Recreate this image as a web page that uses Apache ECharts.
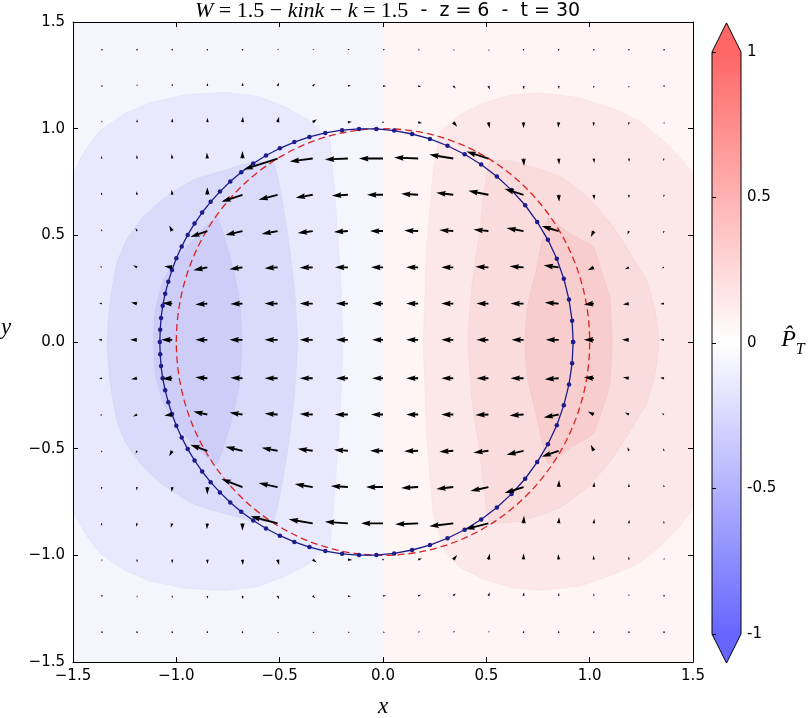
<!DOCTYPE html>
<html>
<head>
<meta charset="utf-8">
<script src="https://cdn.jsdelivr.net/npm/echarts@6/dist/echarts.min.js"></script>
<style>
html, body { margin: 0; padding: 0; background: #fff; }
#chart { width: 812px; height: 718px; }
</style>
</head>
<body>
<div id="chart"></div>
<script>
// quiver grid (x left->right, y top->bottom)
var gridX = [-1.36, -1.19, -1.02, -0.85, -0.68, -0.51, -0.34, -0.17, 0, 0.17, 0.34, 0.51, 0.68, 0.85, 1.02, 1.19, 1.36];
var gridY = [1.37, 1.20, 1.03, 0.86, 0.69, 0.52, 0.35, 0.18, 0.01, -0.17, -0.34, -0.51, -0.68, -0.85, -1.02, -1.19, -1.36];

// velocity components, one row per gridY
var quiverU = [
  [0.5, 0.6, 0.8, 1, 1.3, 1.6, 1.9, 2.1, 2.2, 2.1, 1.9, 1.6, 1.3, 1, 0.8, 0.6, 0.5],
  [0, 0, 0, 0.3, 0.5, 1.5, 2.5, 3, 3.2, 3, 2.5, 1.5, 0.5, 0.3, 0, 0, 0],
  [0, 0, 0, 0.3, 0.5, 1.5, 4, 4, 1, 4, 4, 1.5, 0, -0.5, -0.5, -0.3, 0],
  [-1, -0.3, -0.5, -0.5, 0, -34, -23, -23, -24, -24, -24, -22, 0.5, 0.5, 0.5, 0.3, -1],
  [-1, -0.5, -0.5, 0, -21, -19, -17, -16, -16, -17, -17, -20, -19, 0.5, 0.5, 0, -0.5],
  [-1, -1.5, -3, -17, -17, -16, -15, -14, -13, -14, -14, -15, -17, -17, -3, -1.5, -1],
  [-2, -4, -8, -14, -13, -13, -13, -13, -12, -12, -12, -13, -14, -15, -6, -4, -2.5],
  [-3, -6, -10, -12, -12, -13, -13, -12, -11, -12, -12, -12, -13, -14, -10, -6, -4],
  [-3.5, -7, -11, -12, -13, -13, -13, -12, -11, -12, -12, -12, -12, -13, -10, -7, -4],
  [-3, -6, -10, -12, -12, -13, -13, -12, -11, -12, -12, -12, -13, -14, -10, -6, -4],
  [-2, -4, -8, -14, -13, -13, -13, -13, -12, -12, -12, -13, -14, -15, -6, -4, -2.5],
  [-1, -1.5, -3, -17, -17, -16, -15, -14, -13, -14, -14, -15, -17, -17, -3, -1.5, -1],
  [-1, -0.5, -0.5, 0, -21, -19, -18, -17, -17, -17, -17, -18, -19, 0.5, 0.5, 0, -0.5],
  [-1, -1, -1.5, -0.5, 0, -27, -24, -23, -22, -23, -24, -23, 0.5, 0.5, 0.5, 0.3, -0.5],
  [0, 0, 0, 0.3, 0.5, 1.5, 4, 4.5, 1, 4, 4, 1.5, 0, -0.5, -0.5, -0.3, 0],
  [0, 0, 0, 0.3, 0.5, 1.5, 2.5, 3, 3.2, 3, 2.5, 1.5, 0.5, 0.3, 0, 0, 0],
  [0.5, 0.6, 0.8, 1, 1.3, 1.6, 1.9, 2.1, 2.2, 2.1, 1.9, 1.6, 1.3, 1, 0.8, 0.6, 0.5]
];
var quiverV = [
  [1, 1.2, 1.3, 1.4, 1.3, 1.1, 0.8, 0.4, 0, -0.4, -0.8, -1.1, -1.3, -1.4, -1.3, -1.2, -1],
  [1.5, 2, 2.5, 3, 3.5, 3.5, 2.5, 1, 0, -1, -2.5, -3.5, -3.5, -3, -2.5, -2, -1.5],
  [2, 3, 4, 4.5, 5.5, 5.5, 3, 0.5, 0, -1, -4.5, -6, -6, -5.5, -4, -3, -2],
  [2.5, 3.5, 4.5, 6, 7.5, -11, -3, -1, 0, 1, 4, 7, -7.5, -6, -4.5, -3.5, -2.5],
  [2.5, 3.5, 5, 7.5, -7, -5, -3, -1, 0, 1, 2, 4, 6, -7, -5, -3.5, -2.5],
  [2, 3, 5.5, -6, -4, -3, -2, -1, 0, 0.5, 1, 1.5, 3, 5, -6, -3.5, -2.5],
  [1, 2, 1, -3, -2, -1, -0.5, 0, 0, 0, 0, 0.5, 1, 2, -3, -2, -1],
  [0.5, 1, 0.5, -1, -0.5, 0, 0, 0, 0, 0, 0, 0, 0, 1, -1, -1, -0.5],
  [0, 0, 0, 0, 0, 0, 0, 0, 0, 0, 0, 0, 0, 0, 0, 0, 0],
  [-0.5, -1, -0.5, 1, 0.5, 0, 0, 0, 0, 0, 0, 0, 0, -1, 1, 1, 0.5],
  [-1, -2, -1, 3, 2, 1, 0.5, 0, 0, 0, 0, -0.5, -1, -3, 3, 2, 1],
  [-2, -3, -5.5, 6, 4, 3, 2, 1, 0, -0.5, -1, -2, -4, -6, 6, 3.5, 2.5],
  [-2.5, -3.5, -5, -7.5, 8, 4, 3, 1, 0, -1, -2, -4, -6, 7, 5, 3.5, 2.5],
  [-2.5, -3.5, -4.5, -6, -7.5, 7, 4, 1.5, 0, -1, -3, -6, 7.5, 6, 4.5, 3.5, 2.5],
  [-2, -3, -4, -4.5, -5.5, -5.5, -3, -0.5, 0, 1, 4.5, 6, 6, 5.5, 4, 3, 2],
  [-1.5, -2, -2.5, -3, -3.5, -3.5, -2.5, -1, 0, 1, 2.5, 3.5, 3.5, 3, 2.5, 2, 1.5],
  [-1, -1.2, -1.3, -1.4, -1.3, -1.1, -0.8, -0.4, 0, 0.4, 0.8, 1.1, 1.3, 1.4, 1.3, 1.2, 1]
];

// filled contour regions of P_T (outlines in data coordinates)
var bgNegative = [[-1.5, 1.5], [0, 1.5], [0, -1.5], [-1.5, -1.5]];
var bgPositive = [[0, 1.5], [1.5, 1.5], [1.5, -1.5], [0, -1.5]];
var blueOuter = [[-1.5, 0.79], [-1.44, 0.9], [-1.37, 0.99], [-1.25, 1.07], [-1.13, 1.12], [-0.95, 1.16], [-0.76, 1.17],
  [-0.6, 1.15], [-0.48, 1.105], [-0.36, 1.04], [-0.256, 0.95], [-0.23, 0.65], [-0.205, 0.3], [-0.195, 0],
  [-0.205, -0.3], [-0.23, -0.65], [-0.256, -0.945], [-0.36, -1.04], [-0.48, -1.1], [-0.6, -1.145],
  [-0.76, -1.165], [-0.95, -1.155], [-1.13, -1.12], [-1.25, -1.07], [-1.37, -0.99], [-1.44, -0.9], [-1.5, -0.79]];
var blueMid = [[-0.643, 0.84], [-0.78, 0.8], [-0.916, 0.76], [-1.05, 0.68], [-1.158, 0.588], [-1.24, 0.48],
  [-1.287, 0.369], [-1.32, 0.19], [-1.335, 0], [-1.32, -0.19], [-1.287, -0.369], [-1.24, -0.48], [-1.158, -0.588],
  [-1.05, -0.68], [-0.916, -0.76], [-0.78, -0.8], [-0.643, -0.836], [-0.53, -0.836], [-0.465, -0.526],
  [-0.43, -0.26], [-0.414, 0], [-0.43, 0.26], [-0.465, 0.526], [-0.53, 0.84]];
var blueInner = [[-0.803, 0.585], [-0.88, 0.52], [-0.948, 0.447], [-1.01, 0.37], [-1.061, 0.291], [-1.101, 0.15],
  [-1.11, 0], [-1.101, -0.15], [-1.061, -0.291], [-1.01, -0.37], [-0.948, -0.447], [-0.88, -0.515],
  [-0.803, -0.57], [-0.723, -0.33], [-0.691, -0.166], [-0.683, 0], [-0.691, 0.166], [-0.723, 0.338]];
var redOuter = [[0.28, 0.99], [0.38, 1.07], [0.484, 1.12], [0.62, 1.158], [0.758, 1.168], [0.95, 1.145], [1.129, 1.089],
  [1.25, 1.03], [1.36, 0.94], [1.44, 0.86], [1.5, 0.79], [1.5, -0.78], [1.44, -0.86], [1.36, -0.94], [1.25, -1.03],
  [1.129, -1.085], [0.95, -1.145], [0.758, -1.164], [0.62, -1.15], [0.484, -1.11], [0.38, -1.06], [0.3, -0.99],
  [0.243, -0.8], [0.212, -0.45], [0.195, 0], [0.212, 0.45], [0.243, 0.8]];
var redMid = [[0.517, 0.846], [0.49, 0.7], [0.469, 0.526], [0.43, 0.26], [0.412, 0], [0.43, -0.26], [0.469, -0.526],
  [0.49, -0.7], [0.517, -0.844], [0.662, -0.84], [0.855, -0.776], [1.0, -0.67], [1.113, -0.54], [1.273, -0.291],
  [1.315, -0.15], [1.335, 0], [1.315, 0.15], [1.273, 0.291], [1.113, 0.54], [1.0, 0.67], [0.855, 0.776], [0.63, 0.846]];
var redInner = [[0.8, 0.58], [0.742, 0.338], [0.7, 0.17], [0.686, 0], [0.7, -0.17], [0.742, -0.338], [0.8, -0.57],
  [0.9, -0.5], [1.016, -0.43], [1.06, -0.32], [1.097, -0.2], [1.108, 0], [1.097, 0.213], [1.06, 0.32],
  [1.016, 0.447], [0.9, 0.51]];

// displaced boundary (blue, with markers)
var boundary = [[0.92, 0], [0.915, 0.1], [0.9, 0.199], [0.875, 0.296], [0.841, 0.39], [0.798, 0.479], [0.746, 0.563],
  [0.688, 0.641], [0.622, 0.712], [0.551, 0.776], [0.475, 0.832], [0.395, 0.88], [0.312, 0.92], [0.227, 0.952],
  [0.141, 0.975], [0.054, 0.991], [-0.032, 0.999], [-0.116, 0.999], [-0.198, 0.993], [-0.279, 0.98], [-0.356, 0.961],
  [-0.429, 0.937], [-0.499, 0.908], [-0.566, 0.874], [-0.628, 0.837], [-0.686, 0.796], [-0.739, 0.752],
  [-0.789, 0.705], [-0.834, 0.657], [-0.875, 0.607], [-0.912, 0.555], [-0.945, 0.502], [-0.974, 0.448],
  [-1.0, 0.393], [-1.021, 0.338], [-1.039, 0.282], [-1.054, 0.226], [-1.066, 0.17], [-1.074, 0.113],
  [-1.078, 0.057], [-1.08, 0], [-1.078, -0.057], [-1.074, -0.113], [-1.066, -0.17], [-1.054, -0.226],
  [-1.039, -0.282], [-1.021, -0.338], [-1.0, -0.393], [-0.974, -0.448], [-0.945, -0.502], [-0.912, -0.555],
  [-0.875, -0.607], [-0.834, -0.657], [-0.789, -0.705], [-0.739, -0.752], [-0.686, -0.796], [-0.628, -0.837],
  [-0.566, -0.874], [-0.499, -0.908], [-0.429, -0.937], [-0.356, -0.961], [-0.279, -0.98], [-0.198, -0.993],
  [-0.116, -0.999], [-0.032, -0.999], [0.054, -0.991], [0.141, -0.975], [0.227, -0.952], [0.312, -0.92],
  [0.395, -0.88], [0.475, -0.832], [0.551, -0.776], [0.622, -0.712], [0.688, -0.641], [0.746, -0.563],
  [0.798, -0.479], [0.841, -0.39], [0.875, -0.296], [0.9, -0.199], [0.915, -0.1]];

// unperturbed tube boundary: centre x, centre y, radius
var tubeCircle = [[0, 0, 1]];

var regions = [bgNegative, bgPositive, blueOuter, redOuter, blueMid, redMid, blueInner, redInner];
var regionFill = ['#f5f5fe', '#fff5f5', '#e8e9fc', '#fce8e8', '#dadbfa', '#fadcdc', '#cdcdf8', '#f8cdcd'];
var regionStroke = ['none', 'none', '#dfe0f8', '#f7dfdf', '#d0d1f5', '#f4d2d2', '#c4c4f2', '#f0c4c4'];
var regionSmooth = [0, 0, 0, 0, 0.15, 0.15, 0.15, 0.15];

var arrowData = [];
for (var r = 0; r < gridY.length; r++) {
  for (var c = 0; c < gridX.length; c++) {
    arrowData.push([gridX[c], gridY[r], quiverU[r][c], quiverV[r][c]]);
  }
}

var sansFont = 'DejaVu Sans';
var mathFont = 'Liberation Serif';
var shaftW = 1.9;

function renderArrow(params, api) {
  var p = api.coord([api.value(0), api.value(1)]);
  var dx = api.value(2), dy = -api.value(3);
  var L = Math.sqrt(dx * dx + dy * dy);
  if (L < shaftW) {
    return { type: 'circle', shape: { cx: p[0], cy: p[1], r: 0.8 }, style: { fill: '#000' } };
  }
  var ux = dx / L, uy = dy / L, nx = -uy, ny = ux;
  var headLen = 5 * shaftW, headAxis = 4.5 * shaftW, headW = 3 * shaftW;
  var s = 1, len = L;
  if (L < headLen) { s = L / headLen; len = headLen; }
  var frame = [
    [0, -shaftW / 2], [len - headAxis, -shaftW / 2], [len - headLen, -headW / 2], [len, 0],
    [len - headLen, headW / 2], [len - headAxis, shaftW / 2], [0, shaftW / 2]
  ];
  var pts = frame.map(function (f) {
    var a = f[0] * s, b = f[1] * s;
    return [p[0] + a * ux + b * nx, p[1] + a * uy + b * ny];
  });
  return { type: 'polygon', shape: { points: pts }, style: { fill: '#000' } };
}

function tickLabel(v) { return v.toFixed(1).replace('-', '\u2212'); }

var spine = { show: true, onZero: false, lineStyle: { color: '#000', width: 1 } };
var inTick = { show: true, inside: true, length: 5, lineStyle: { color: '#000' } };

var chart = echarts.init(document.getElementById('chart'));

var option = {
  animation: false,
  backgroundColor: '#fff',
  title: {
    text: '{i|W}{r| = 1.5 − }{i|kink}{r| − }{i|k}{r| = 1.5}{s|  -  z = 6  -  t = 30}',
    left: 190,
    top: -5,
    textStyle: {
      fontWeight: 'normal',
      rich: {
        i: { fontFamily: mathFont, fontStyle: 'italic', fontWeight: 'normal', fontSize: 22, color: '#000' },
        r: { fontFamily: mathFont, fontWeight: 'normal', fontSize: 22, color: '#000' },
        s: { fontFamily: sansFont, fontWeight: 'normal', fontSize: 19, color: '#000' }
      }
    }
  },
  graphic: [
    {
      type: 'text', left: 1, top: 316,
      style: { text: 'y', fontFamily: mathFont, fontStyle: 'italic', fontSize: 23, fill: '#000' }
    }
  ],
  grid: [
    { left: 73, top: 22, width: 620, height: 640, show: false, outerBoundsMode: 'none', containLabel: false },
    { left: 712, top: 52, width: 29, height: 582, show: false, outerBoundsMode: 'none', containLabel: false }
  ],
  xAxis: [
    {
      gridIndex: 0, type: 'value', min: -1.5, max: 1.5, interval: 0.5, position: 'bottom', z: 10,
      name: 'x', nameLocation: 'middle', nameGap: 33,
      nameTextStyle: { fontFamily: mathFont, fontStyle: 'italic', fontSize: 23, color: '#000' },
      axisLine: spine, axisTick: inTick,
      axisLabel: { fontFamily: sansFont, fontSize: 15, color: '#000', margin: 7, formatter: tickLabel },
      splitLine: { show: false }
    },
    {
      gridIndex: 0, type: 'value', min: -1.5, max: 1.5, interval: 0.5, position: 'top', z: 10,
      axisLine: spine, axisTick: inTick,
      axisLabel: { show: false }, splitLine: { show: false }
    },
    { gridIndex: 1, type: 'value', min: 0, max: 1, show: false }
  ],
  yAxis: [
    {
      gridIndex: 0, type: 'value', min: -1.5, max: 1.5, interval: 0.5, position: 'left', z: 10,
      axisLine: spine, axisTick: inTick,
      axisLabel: { fontFamily: sansFont, fontSize: 15, color: '#000', margin: 8, formatter: tickLabel },
      splitLine: { show: false }
    },
    {
      gridIndex: 0, type: 'value', min: -1.5, max: 1.5, interval: 0.5, position: 'right', z: 10,
      axisLine: spine, axisTick: inTick,
      axisLabel: { show: false }, splitLine: { show: false }
    },
    {
      gridIndex: 1, type: 'value', min: -1, max: 1, interval: 0.5, position: 'right', z: 10,
      name: '{p|P\u0302}{t|T}', nameLocation: 'middle', nameGap: 38, nameRotate: 0,
      nameTextStyle: {
        align: 'left',
        rich: {
          p: { fontFamily: mathFont, fontStyle: 'italic', fontSize: 24, color: '#000', verticalAlign: 'top', lineHeight: 30 },
          t: { fontFamily: mathFont, fontStyle: 'italic', fontSize: 16, color: '#000', verticalAlign: 'bottom', lineHeight: 30 }
        }
      },
      axisLine: { show: false },
      axisTick: { show: true, inside: false, length: 4, lineStyle: { color: '#000' } },
      axisLabel: {
        fontFamily: sansFont, fontSize: 15, color: '#000', margin: 6,
        formatter: function (v) { return String(v); }
      },
      splitLine: { show: false }
    }
  ],
  series: [
    {
      name: 'P_T contours', type: 'custom', xAxisIndex: 0, yAxisIndex: 0, z: 1, silent: true,
      data: regions.map(function (reg, i) { return [i]; }),
      renderItem: function (params, api) {
        var i = params.dataIndex;
        var pts = regions[i].map(function (p) { return api.coord(p); });
        return {
          type: 'polygon', shape: { points: pts, smooth: regionSmooth[i] },
          style: { fill: regionFill[i], stroke: regionStroke[i], lineWidth: 0.6 }
        };
      }
    },
    {
      name: 'tube', type: 'custom', xAxisIndex: 0, yAxisIndex: 0, z: 3, silent: true,
      data: tubeCircle,
      renderItem: function (params, api) {
        var c = api.coord([api.value(0), api.value(1)]);
        var s = api.size([api.value(2), api.value(2)]);
        return {
          type: 'ellipse', shape: { cx: c[0], cy: c[1], rx: s[0], ry: s[1] },
          style: { fill: 'none', stroke: '#dd2222', lineWidth: 1.3, lineDash: [7, 4] }
        };
      }
    },
    {
      name: 'boundary', type: 'line', xAxisIndex: 0, yAxisIndex: 0, z: 4, silent: true,
      data: boundary.concat([boundary[0]]),
      symbol: 'circle', symbolSize: 4.5, showAllSymbol: true,
      lineStyle: { color: '#1c1c8c', width: 1.3 },
      itemStyle: { color: '#1c1c8c' }
    },
    {
      name: 'velocity', type: 'custom', xAxisIndex: 0, yAxisIndex: 0, z: 5, silent: true,
      data: arrowData,
      encode: { x: 0, y: 1 },
      renderItem: renderArrow
    },
    {
      name: 'colorbar', type: 'custom', xAxisIndex: 2, yAxisIndex: 2, z: 2, silent: true,
      data: [[0]],
      renderItem: function (params, api) {
        var tl = api.coord([0, 1]), br = api.coord([1, -1]);
        var topTip = api.coord([0.5, 1.1]), botTip = api.coord([0.5, -1.1]);
        var grad = new echarts.graphic.LinearGradient(0, 0, 0, 1, [
          { offset: 0, color: 'rgb(255,102,102)' },
          { offset: 0.5, color: 'rgb(255,255,255)' },
          { offset: 1, color: 'rgb(102,102,255)' }
        ]);
        return {
          type: 'group',
          children: [
            { type: 'rect', shape: { x: tl[0], y: tl[1], width: br[0] - tl[0], height: br[1] - tl[1] }, style: { fill: grad } },
            { type: 'polygon', shape: { points: [[tl[0], tl[1]], topTip, [br[0], tl[1]]] }, style: { fill: 'rgb(255,102,102)' } },
            { type: 'polygon', shape: { points: [[tl[0], br[1]], botTip, [br[0], br[1]]] }, style: { fill: 'rgb(102,102,255)' } },
            {
              type: 'polygon',
              shape: { points: [topTip, [br[0], tl[1]], [br[0], br[1]], botTip, [tl[0], br[1]], [tl[0], tl[1]]] },
              style: { fill: 'none', stroke: '#000', lineWidth: 1 }
            }
          ]
        };
      }
    }
  ]
};

chart.setOption(option);
</script>
</body>
</html>
